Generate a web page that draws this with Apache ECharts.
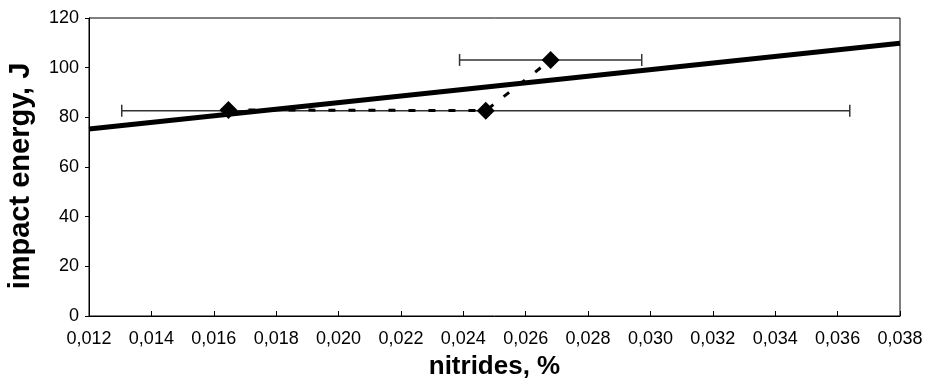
<!DOCTYPE html>
<html>
<head>
<meta charset="utf-8">
<script src="https://cdn.jsdelivr.net/npm/echarts@6/dist/echarts.min.js"></script>
<style>
  html, body { margin: 0; padding: 0; background: #fff; }
  #chart { width: 929px; height: 386px; }
</style>
</head>
<body>
<div id="chart"></div>
<script>
// Measured samples: nitride content (%) vs impact energy (J)
const nitrides = [0.01647, 0.02472, 0.0268];
const impactEnergy = [83.0, 82.7, 103.1];
// Horizontal error (± nitrides, %) for each sample; 0 = no bar drawn
const nitrideError = [0, 0.01167, 0.00292];

// Linear trend line end points
const trendNitrides = [0.012, 0.038];
const trendEnergy = [75.3, 109.8];

// Axis ranges
const xMin = 0.012, xMax = 0.038, xStep = 0.002;
const yMin = 0, yMax = 120, yStep = 20;

const FONT = "'Liberation Sans', Arial, sans-serif";

const pointData = nitrides.map((x, i) => [x, impactEnergy[i]]);
const errorData = nitrides
  .map((x, i) => [x, impactEnergy[i], nitrideError[i]])
  .filter(d => d[2] > 0);
const trendData = trendNitrides.map((x, i) => [x, trendEnergy[i]]);

const chart = echarts.init(document.getElementById('chart'), null, { renderer: 'canvas' });

chart.setOption({
  animation: false,
  backgroundColor: '#fff',
  grid: {
    left: 89, right: 29, top: 18, bottom: 70,
    outerBoundsMode: 'none',
    containLabel: false,
    show: true, borderColor: '#000', borderWidth: 1, backgroundColor: 'transparent'
  },
  xAxis: {
    type: 'value',
    min: xMin, max: xMax, interval: xStep,
    name: 'nitrides, %',
    nameLocation: 'middle',
    nameGap: 38,
    nameTextStyle: { fontFamily: FONT, fontSize: 26, fontWeight: 'bold', color: '#000' },
    axisLine: { show: true, lineStyle: { color: '#000', width: 1 } },
    axisTick: { show: true, inside: true, length: 5, lineStyle: { color: '#000' } },
    axisLabel: {
      fontFamily: FONT, fontSize: 18, color: '#000', margin: 14,
      formatter: v => v.toFixed(3).replace('.', ',')
    },
    splitLine: { show: false }
  },
  yAxis: {
    type: 'value',
    min: yMin, max: yMax, interval: yStep,
    name: 'impact energy, J',
    nameLocation: 'middle',
    nameGap: 54,
    nameTextStyle: {
      fontFamily: FONT, fontSize: 29, fontWeight: 'bold', color: '#000',
      padding: [0, 18, 0, 0]
    },
    axisLine: { show: true, lineStyle: { color: '#000', width: 1 } },
    axisTick: { show: true, inside: false, length: 4, lineStyle: { color: '#000' } },
    axisLabel: { fontFamily: FONT, fontSize: 18, color: '#000', margin: 10 },
    splitLine: { show: false }
  },
  series: [
    {
      // horizontal error bars with end caps
      type: 'custom',
      z: 1,
      data: errorData,
      renderItem: function (params, api) {
        const x = api.value(0), y = api.value(1), e = api.value(2);
        const left = api.coord([x - e, y]);
        const right = api.coord([x + e, y]);
        const cap = 6;
        const style = { stroke: '#333', lineWidth: 1.5 };
        return {
          type: 'group',
          children: [
            { type: 'line', shape: { x1: left[0], y1: left[1], x2: right[0], y2: right[1] }, style },
            { type: 'line', shape: { x1: left[0], y1: left[1] - cap, x2: left[0], y2: left[1] + cap }, style },
            { type: 'line', shape: { x1: right[0], y1: right[1] - cap, x2: right[0], y2: right[1] + cap }, style }
          ]
        };
      }
    },
    {
      // measured points joined by a dashed line
      type: 'line',
      z: 2,
      data: pointData,
      symbol: 'diamond',
      symbolSize: 18,
      itemStyle: { color: '#000' },
      lineStyle: { color: '#000', width: 3, type: [7, 13] }
    },
    {
      // linear trend
      type: 'line',
      z: 3,
      data: trendData,
      symbol: 'none',
      lineStyle: { color: '#000', width: 5 }
    }
  ]
});
</script>
</body>
</html>
